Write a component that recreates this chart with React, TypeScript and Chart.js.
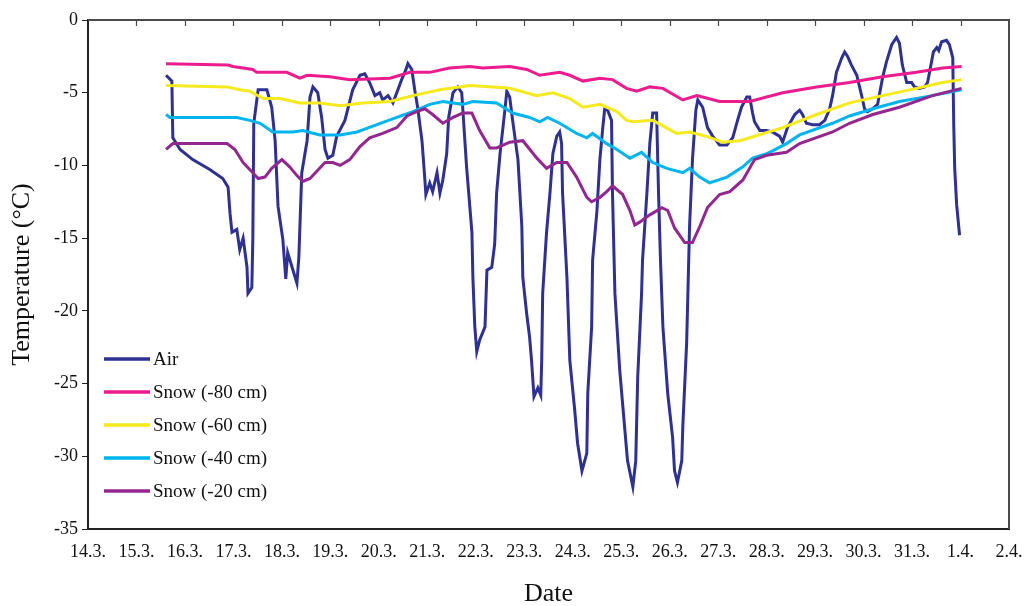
import { useEffect, useRef } from "react";
import { Chart, registerables } from "chart.js";

Chart.register(...registerables);

// x values: days since 14.3. 00:00
const dateLabels = [
  "14.3.", "15.3.", "16.3.", "17.3.", "18.3.", "19.3.", "20.3.", "21.3.", "22.3.", "23.3.",
  "24.3.", "25.3.", "26.3.", "27.3.", "28.3.", "29.3.", "30.3.", "31.3.", "1.4.", "2.4.",
];

const seriesNames = ["Air", "Snow (-80 cm)", "Snow (-60 cm)", "Snow (-40 cm)", "Snow (-20 cm)"];
const seriesColors = ["#2E3192", "#EC1C8E", "#F5EA1E", "#00B5EF", "#92278F"];

const airDays = [
  1.61, 1.73, 1.75, 1.9, 2.16, 2.52, 2.78, 2.89, 2.93, 2.97, 3.07, 3.13, 3.2, 3.28, 3.3, 3.38, 3.4, 3.42,
  3.51, 3.61, 3.69, 3.79, 3.86, 3.92, 4.02, 4.08, 4.12, 4.21, 4.31, 4.35, 4.41, 4.52, 4.58, 4.64, 4.74,
  4.82, 4.89, 4.95, 5.05, 5.13, 5.3, 5.46, 5.61, 5.71, 5.81, 5.92, 6.02, 6.08, 6.19, 6.29, 6.37, 6.47,
  6.56, 6.6, 6.68, 6.74, 6.8, 6.89, 6.95, 6.97, 7.05, 7.11, 7.2, 7.26, 7.32, 7.4, 7.44, 7.53, 7.63, 7.71,
  7.81, 7.92, 7.94, 7.98, 8.02, 8.08, 8.19, 8.23, 8.33, 8.39, 8.43, 8.5, 8.6, 8.64, 8.7, 8.76, 8.87, 8.95,
  8.97, 9.05, 9.11, 9.15, 9.2, 9.28, 9.34, 9.36, 9.38, 9.46, 9.53, 9.59, 9.67, 9.73, 9.77, 9.79, 9.88,
  9.94, 10.04, 10.1, 10.19, 10.29, 10.31, 10.39, 10.41, 10.5, 10.56, 10.62, 10.66, 10.72, 10.8, 10.82,
  10.87, 10.97, 11.07, 11.13, 11.24, 11.3, 11.34, 11.42, 11.44, 11.53, 11.59, 11.65, 11.73, 11.77, 11.81,
  11.86, 11.96, 12.06, 12.1, 12.16, 12.25, 12.27, 12.35, 12.41, 12.47, 12.54, 12.58, 12.68, 12.78, 12.89,
  13.03, 13.18, 13.3, 13.4, 13.48, 13.59, 13.65, 13.71, 13.75, 13.86, 14.0, 14.12, 14.27, 14.33, 14.43,
  14.58, 14.68, 14.74, 14.82, 14.95, 15.09, 15.2, 15.3, 15.36, 15.44, 15.55, 15.61, 15.67, 15.75, 15.86,
  15.96, 16.02, 16.08, 16.19, 16.29, 16.39, 16.47, 16.58, 16.68, 16.74, 16.8, 16.89, 16.99, 17.05, 17.15,
  17.26, 17.32, 17.4, 17.44, 17.51, 17.55, 17.61, 17.71, 17.77, 17.84, 17.86, 17.88, 17.92, 17.98,
];
const airTemp = [
  -3.8, -4.2, -8.1, -8.9, -9.6, -10.3, -10.9, -11.5, -13.3, -14.6, -14.4, -15.8, -15.0, -17.0, -18.8, -18.4, -15.1, -7.1,
  -4.8, -4.8, -4.8, -6.0, -8.3, -12.8, -15.1, -17.8, -16.0, -17.0, -18.1, -16.3, -10.5, -8.3, -5.3, -4.6, -5.0,
  -6.7, -8.9, -9.5, -9.3, -8.0, -6.9, -4.8, -3.8, -3.7, -4.3, -5.2, -5.0, -5.5, -5.2, -5.7, -5.0, -4.1,
  -3.4, -3.0, -3.4, -4.8, -6.0, -8.3, -11.0, -12.0, -11.2, -11.8, -10.5, -11.9, -11.0, -9.2, -6.7, -5.0, -4.6, -5.0,
  -10.1, -14.6, -17.7, -21.1, -22.8, -22.0, -21.1, -17.2, -17.0, -15.4, -11.9, -9.2, -6.2, -4.9, -5.3, -6.9, -9.6, -14.2,
  -17.7, -20.2, -21.8, -23.4, -25.9, -25.3, -25.8, -23.4, -18.8, -14.6, -11.9, -9.2, -8.0, -7.7, -8.5, -11.9, -17.7,
  -23.4, -26.8, -29.1, -31.0, -29.8, -25.7, -21.1, -16.5, -13.1, -9.6, -7.4, -6.1, -6.2, -6.9, -11.9,
  -18.8, -24.1, -28.0, -30.3, -32.1, -30.3, -24.6, -18.8, -16.5, -11.9, -8.5, -6.4, -6.4, -11.9, -16.5,
  -21.1, -25.7, -28.7, -31.0, -31.8, -30.3, -28.0, -22.2, -14.2, -9.6, -6.2, -5.5, -6.0, -7.4, -8.0,
  -8.6, -8.6, -8.1, -6.9, -6.0, -5.3, -5.3, -6.4, -7.0, -7.6, -7.6, -7.7, -8.0, -8.4, -7.4,
  -6.5, -6.2, -6.5, -7.1, -7.2, -7.2, -6.9, -6.1, -5.2, -3.6, -2.6, -2.2, -2.5, -3.1, -3.8,
  -5.2, -6.1, -6.3, -6.1, -5.8, -4.0, -2.9, -1.7, -1.2, -1.6, -3.1, -4.3, -4.3, -4.6, -4.7,
  -4.6, -4.3, -2.9, -2.2, -1.9, -2.1, -1.5, -1.4, -1.7, -2.6, -7.2, -10.2, -12.7, -14.8,
];

const snow80Days = [
  1.61, 2.89, 2.99, 3.4, 3.48, 3.9, 4.1, 4.37, 4.52, 4.99, 5.4, 6.23, 6.64, 7.05, 7.46, 7.88, 8.14, 8.7,
  9.05, 9.32, 9.73, 9.94, 10.21, 10.56, 10.82, 11.11, 11.32, 11.59, 11.86, 12.27, 12.56, 13.03, 13.65,
  14.33, 15.03, 15.71, 16.39, 17.09, 17.63, 18.02,
];
const snow80Temp = [
  -3.0, -3.1, -3.2, -3.4, -3.6, -3.6, -3.6, -4.0, -3.8, -3.9, -4.1, -4.0, -3.6, -3.6, -3.3, -3.2, -3.3, -3.2,
  -3.4, -3.8, -3.6, -3.8, -4.2, -4.0, -4.1, -4.7, -4.9, -4.6, -4.7, -5.5, -5.2, -5.6, -5.6,
  -5.0, -4.6, -4.3, -3.9, -3.6, -3.3, -3.2,
];

const snow60Days = [
  1.61, 2.87, 3.13, 3.34, 3.61, 3.96, 4.37, 4.78, 5.2, 5.67, 6.23, 6.7, 7.26, 7.88, 8.35, 8.7, 9.26, 9.59,
  9.94, 10.21, 10.56, 10.91, 11.11, 11.24, 11.65, 12.14, 12.41, 12.76, 13.09, 13.44, 13.65, 14.33, 15.03,
  15.71, 16.39, 17.09, 17.63, 18.02,
];
const snow60Temp = [
  -4.5, -4.6, -4.8, -4.9, -5.4, -5.4, -5.7, -5.7, -5.9, -5.7, -5.6, -5.2, -4.8, -4.5, -4.6, -4.7, -5.2, -5.0,
  -5.4, -6.0, -5.8, -6.3, -6.9, -7.0, -6.9, -7.8, -7.7, -8.0, -8.4, -8.3, -8.1, -7.4, -6.5,
  -5.7, -5.2, -4.7, -4.3, -4.1,
];

const snow40Days = [
  1.61, 1.69, 3.07, 3.34, 3.55, 3.81, 4.23, 4.43, 4.78, 5.2, 5.55, 5.96, 6.37, 6.7, 7.05, 7.32, 7.73, 7.94,
  8.43, 8.76, 9.11, 9.32, 9.48, 9.73, 10.08, 10.29, 10.41, 10.7, 10.91, 11.18, 11.42, 11.65, 11.94, 12.27,
  12.41, 12.62, 12.82, 13.18, 13.51, 13.71, 14.0, 14.41, 14.68, 15.36, 15.71, 16.19, 16.74, 17.42, 18.02,
];
const snow40Temp = [
  -6.5, -6.7, -6.7, -6.9, -7.1, -7.7, -7.7, -7.6, -7.9, -7.9, -7.7, -7.2, -6.7, -6.3, -5.8, -5.6, -5.8, -5.6,
  -5.7, -6.4, -6.7, -7.0, -6.7, -7.1, -7.8, -8.1, -7.8, -8.5, -8.9, -9.5, -9.1, -9.8, -10.2, -10.5,
  -10.2, -10.8, -11.2, -10.8, -10.1, -9.5, -9.2, -8.5, -7.9, -7.1, -6.6, -6.1, -5.6, -5.2, -4.8,
];

const snow20Days = [
  1.61, 1.75, 2.87, 3.03, 3.2, 3.4, 3.51, 3.65, 3.79, 4.0, 4.16, 4.31, 4.43, 4.58, 4.72, 4.89, 5.05, 5.2,
  5.4, 5.61, 5.81, 6.08, 6.37, 6.58, 6.78, 6.95, 7.11, 7.32, 7.53, 7.73, 7.92, 8.08, 8.29, 8.43, 8.7, 8.97,
  9.26, 9.46, 9.67, 9.88, 10.08, 10.29, 10.39, 10.56, 10.7, 10.82, 11.03, 11.18, 11.28, 11.38, 11.59,
  11.84, 11.96, 12.1, 12.31, 12.47, 12.62, 12.78, 13.03, 13.24, 13.51, 13.75, 14.0, 14.41, 14.68, 15.36,
  15.71, 16.19, 16.74, 17.42, 18.02,
];
const snow20Temp = [
  -8.9, -8.5, -8.5, -8.9, -9.8, -10.5, -10.9, -10.8, -10.2, -9.6, -10.1, -10.7, -11.1, -10.9, -10.4, -9.8, -9.8, -10.0,
  -9.6, -8.7, -8.1, -7.8, -7.4, -6.6, -6.3, -6.1, -6.5, -7.1, -6.7, -6.4, -6.4, -7.6, -8.8, -8.8, -8.4, -8.3,
  -9.5, -10.2, -9.8, -9.8, -10.8, -12.2, -12.5, -12.2, -11.8, -11.4, -12.0, -13.1, -14.1, -13.9, -13.4,
  -12.9, -13.1, -14.3, -15.3, -15.3, -14.2, -12.9, -12.0, -11.8, -11.0, -9.6, -9.3, -9.1, -8.5, -7.7,
  -7.1, -6.5, -6.0, -5.2, -4.7,
];

const seriesDays = [airDays, snow80Days, snow60Days, snow40Days, snow20Days];
const seriesTemps = [airTemp, snow80Temp, snow60Temp, snow40Temp, snow20Temp];

const FONT = "'Liberation Serif', 'Times New Roman', serif";

const decorPlugin = {
  id: "decor",
  beforeDatasetsDraw(chart: any) {
    const { ctx, chartArea } = chart;
    const { left, right, top, bottom } = chartArea;
    const xs = chart.scales.x;
    ctx.save();
    ctx.strokeStyle = "#4a4a4a";
    ctx.lineWidth = 2;
    ctx.beginPath();
    ctx.moveTo(left, top);
    ctx.lineTo(right, top);
    ctx.lineTo(right, bottom);
    ctx.stroke();
    ctx.lineWidth = 1.2;
    ctx.beginPath();
    for (let i = 1; i < dateLabels.length - 1; i++) {
      const px = Math.round(xs.getPixelForValue(i)) + 0.5;
      ctx.moveTo(px, top);
      ctx.lineTo(px, top + 6);
    }
    ctx.stroke();
    ctx.restore();
  },
  afterDatasetsDraw(chart: any) {
    const { ctx, chartArea } = chart;
    const x0 = chartArea.left + 16;
    const y0 = chartArea.top + 339;
    ctx.save();
    ctx.font = "19px " + FONT;
    ctx.textBaseline = "middle";
    ctx.fillStyle = "#111";
    seriesNames.forEach((name, i) => {
      const y = y0 + i * 33;
      ctx.strokeStyle = seriesColors[i];
      ctx.lineWidth = 3.5;
      ctx.beginPath();
      ctx.moveTo(x0, y);
      ctx.lineTo(x0 + 46, y);
      ctx.stroke();
      ctx.fillText(name, x0 + 49, y + 1);
    });
    ctx.restore();
  },
};

export default function App() {
  const ref = useRef<HTMLCanvasElement | null>(null);

  useEffect(() => {
    if (!ref.current) return;
    Chart.defaults.font.family = FONT;
    Chart.defaults.color = "#111";
    const datasets = seriesNames.map((name, i) => ({
      label: name,
      data: seriesDays[i].map((d, k) => ({ x: d, y: seriesTemps[i][k] })),
      borderColor: seriesColors[i],
      backgroundColor: seriesColors[i],
      borderWidth: 3,
      pointRadius: 0,
      tension: 0,
      fill: false,
      order: seriesNames.length - 1 - i,
    }));
    const chart = new Chart(ref.current, {
      type: "line",
      data: { datasets },
      options: {
        animation: false,
        responsive: false,
        devicePixelRatio: 1,
        layout: { padding: { left: 0, top: 20, right: 16, bottom: 0 } },
        plugins: { legend: { display: false }, tooltip: { enabled: false } },
        scales: {
          x: {
            type: "linear",
            min: 0,
            max: dateLabels.length - 1,
            grid: { display: false, drawTicks: false },
            border: { display: true, color: "#222", width: 2 },
            ticks: {
              stepSize: 1,
              autoSkip: false,
              maxRotation: 0,
              padding: 12,
              color: "#111",
              font: { size: 18, family: FONT },
              callback: (v: any) => dateLabels[Math.round(Number(v))] ?? "",
            },
            title: {
              display: true,
              text: "Date",
              color: "#111",
              font: { size: 26, family: FONT, lineHeight: 0.9 },
              padding: { top: 0, bottom: 0 },
            },
            afterFit: (s: any) => {
              s.height = 77;
              s.paddingLeft = 0;
              s.paddingRight = 0;
            },
          },
          y: {
            min: -35,
            max: 0,
            grid: { display: true, drawOnChartArea: false, drawTicks: true, tickLength: 6, color: "#222" },
            border: { display: true, color: "#222", width: 2 },
            ticks: {
              stepSize: 5,
              padding: 4,
              color: "#111",
              font: { size: 18, family: FONT },
            },
            title: {
              display: true,
              text: "Temperature (°C)",
              color: "#111",
              font: { size: 26, family: FONT, lineHeight: 1 },
              padding: { top: 9, bottom: 0 },
            },
            afterFit: (s: any) => {
              s.width = 88;
              s.paddingTop = 0;
              s.paddingBottom = 0;
            },
          },
        },
      },
      plugins: [decorPlugin],
    });
    return () => chart.destroy();
  }, []);

  return (
    <div style={{ position: "fixed", left: 0, top: 0, width: 1025, height: 606, background: "#fff" }}>
      <canvas ref={ref} width={1025} height={606} style={{ width: 1025, height: 606, display: "block" }} />
    </div>
  );
}
